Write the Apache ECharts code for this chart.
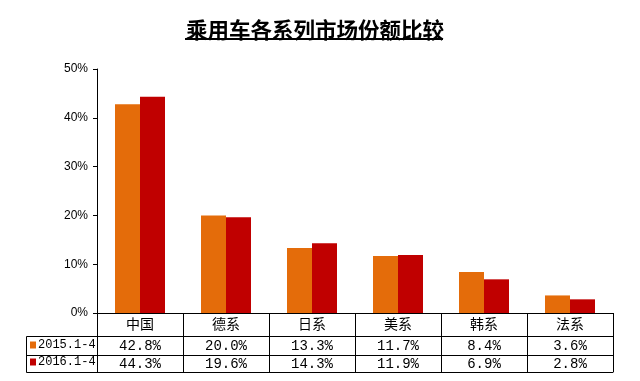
<!DOCTYPE html>
<html>
<head>
<meta charset="utf-8">
<script src="https://cdn.jsdelivr.net/npm/echarts@6/dist/echarts.min.js"></script>
<style>
html,body{margin:0;padding:0;background:#fff;}
#main{width:640px;height:381px;}
</style>
</head>
<body>
<div id="main"></div>
<script>
var titleText = '乘用车各系列市场份额比较';
var categories = ['中国', '德系', '日系', '美系', '韩系', '法系'];
var seriesNames = ['2015.1-4', '2016.1-4'];
var values2015 = [42.8, 20.0, 13.3, 11.7, 8.4, 3.6];
var values2016 = [44.3, 19.6, 14.3, 11.9, 6.9, 2.8];
var yTicks = [0, 10, 20, 30, 40, 50];

var colors = ['#E46C0A', '#C00000'];
var FONT = '"Noto Sans CJK SC", "Liberation Sans", sans-serif';
var MONO = '"Liberation Mono", "DejaVu Sans Mono", monospace';
var chart = echarts.init(document.getElementById('main'));

function fmt(v) { return v.toFixed(1) + '%'; }

var lineStyle = {stroke: '#000', lineWidth: 1};
var option = {
  backgroundColor: '#fff',
  animation: false,
  color: colors,
  title: {
    text: titleText,
    left: 181,
    top: 14,
    textStyle: {fontFamily: FONT, fontSize: 21.5, fontWeight: 'bold', color: '#000'}
  },
  legend: {
    data: seriesNames,
    orient: 'vertical',
    left: 30,
    top: 339,
    icon: 'rect',
    itemWidth: 6,
    itemHeight: 7,
    itemGap: 5,
    padding: 0,
    textStyle: {fontFamily: MONO, fontSize: 12, color: '#000', padding: [0, 0, 0, -3]}
  },
  grid: {left: 97, right: 27, top: 69, bottom: 68},
  yAxis: {
    type: 'value',
    min: yTicks[0],
    max: yTicks[yTicks.length - 1],
    interval: yTicks[1] - yTicks[0],
    axisLine: {show: true, lineStyle: {color: '#000', width: 1}},
    axisTick: {show: true, length: 4, lineStyle: {color: '#000'}},
    splitLine: {show: false},
    axisLabel: {formatter: '{value}%', fontFamily: '"Liberation Sans", Arial, sans-serif', fontSize: 12, color: '#000', margin: 9}
  },
  xAxis: [
    {
      type: 'category', data: categories, position: 'bottom', offset: 0,
      axisLine: {show: true, lineStyle: {color: '#000', width: 1}},
      axisTick: {show: true, length: 23, interval: 0, lineStyle: {color: '#000'}},
      axisLabel: {fontFamily: FONT, fontSize: 14, color: '#000', margin: 4, interval: 0}
    },
    {
      type: 'category', data: categories, position: 'bottom', offset: 23,
      axisLine: {show: true, lineStyle: {color: '#000', width: 1}},
      axisTick: {show: true, length: 19, interval: 0, lineStyle: {color: '#000'}},
      axisLabel: {fontFamily: MONO, fontSize: 14, color: '#000', margin: 3, interval: 0,
        formatter: function (v, i) { return fmt(values2015[i]); }}
    },
    {
      type: 'category', data: categories, position: 'bottom', offset: 42,
      axisLine: {show: true, lineStyle: {color: '#000', width: 1}},
      axisTick: {show: true, length: 17, interval: 0, lineStyle: {color: '#000'}},
      axisLabel: {fontFamily: MONO, fontSize: 14, color: '#000', margin: 2, interval: 0,
        formatter: function (v, i) { return fmt(values2016[i]); }}
    },
    {
      type: 'category', data: categories, position: 'bottom', offset: 59,
      axisLine: {show: true, lineStyle: {color: '#000', width: 1}},
      axisTick: {show: false},
      axisLabel: {show: false}
    }
  ],
  series: [
    {name: seriesNames[0], type: 'bar', xAxisIndex: 0, data: values2015, barWidth: 25, barGap: '0%', itemStyle: {color: colors[0]}},
    {name: seriesNames[1], type: 'bar', xAxisIndex: 0, data: values2016, barWidth: 25, barGap: '0%', itemStyle: {color: colors[1]}}
  ],
  graphic: [
    {type: 'line', shape: {x1: 185, y1: 39, x2: 443, y2: 39}, style: {stroke: '#000', lineWidth: 2}},
    {type: 'line', shape: {x1: 26.5, y1: 336.5, x2: 97, y2: 336.5}, style: lineStyle},
    {type: 'line', shape: {x1: 26.5, y1: 355.5, x2: 97, y2: 355.5}, style: lineStyle},
    {type: 'line', shape: {x1: 26.5, y1: 372.5, x2: 97, y2: 372.5}, style: lineStyle},
    {type: 'line', shape: {x1: 26.5, y1: 336.5, x2: 26.5, y2: 372.5}, style: lineStyle}
  ]
};
chart.setOption(option);
</script>
</body>
</html>
